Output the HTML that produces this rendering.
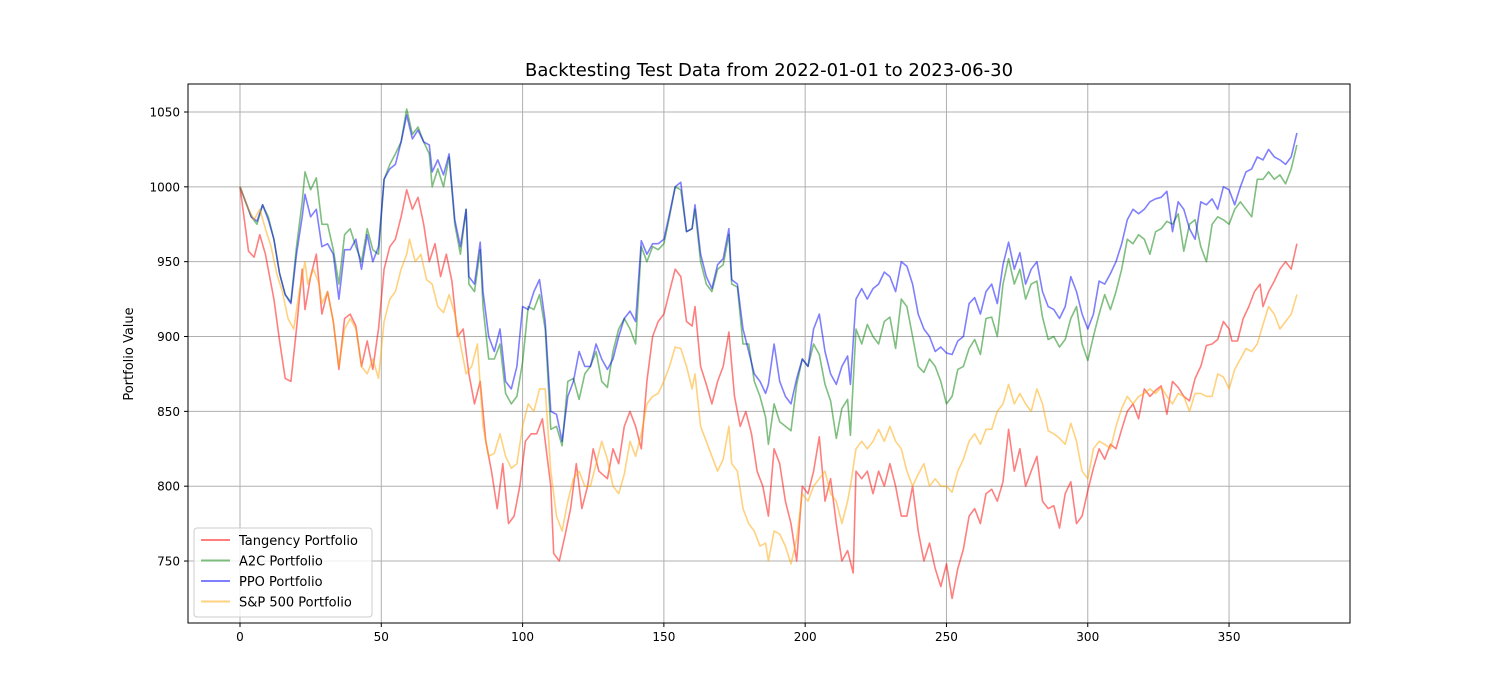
<!DOCTYPE html>
<html><head><meta charset="utf-8"><style>
html,body{margin:0;padding:0;background:#fff;}
svg{display:block;font-family:"DejaVu Sans","Liberation Sans",sans-serif;}
</style></head><body>
<svg id="chart" width="1500" height="700" viewBox="0 0 1500 700">
<rect x="0" y="0" width="1500" height="700" fill="#fff"/>
<text x="769" y="76" font-size="18" text-anchor="middle">Backtesting Test Data from 2022-01-01 to 2023-06-30</text>
<text transform="translate(133,354) rotate(-90)" font-size="13" text-anchor="middle">Portfolio Value</text>
<g id="grid"></g>
<g id="ticks"></g>
<g id="series"></g>
<rect x="188" y="84" width="1162" height="539" fill="none" stroke="#000" stroke-width="1"/>
<g id="legend"></g>
</svg>
<script>
const xTicks=[0,50,100,150,200,250,300,350];
const yTicks=[750,800,850,900,950,1000,1050];
const seriesNames=["Tangency Portfolio","A2C Portfolio","PPO Portfolio","S&P 500 Portfolio"];
const tangencyData=[[0,1000],[3,957],[5,953],[7,968],[9,955],[12,925],[14,897],[16,872],[18,870],[20,905],[22,945],[23,918],[25,940],[27,955],[29,915],[31,930],[33,910],[35,878],[37,912],[39,915],[41,907],[43,880],[45,897],[47,878],[49,905],[51,945],[53,960],[55,965],[57,980],[59,998],[61,985],[63,993],[65,975],[67,950],[69,962],[71,940],[73,955],[75,937],[77,900],[79,905],[81,875],[83,855],[85,870],[87,830],[89,810],[91,785],[93,815],[95,775],[97,780],[99,800],[101,830],[103,835],[105,835],[107,845],[110,800],[111,755],[113,750],[115,767],[117,785],[119,815],[121,785],[123,800],[125,825],[127,810],[130,805],[132,825],[134,815],[136,840],[138,850],[140,840],[142,825],[144,870],[146,900],[148,910],[150,915],[152,930],[154,945],[156,940],[158,910],[160,907],[161,920],[163,880],[165,868],[167,855],[169,870],[171,880],[173,903],[175,860],[177,840],[179,850],[181,835],[183,810],[185,800],[187,780],[189,825],[191,815],[193,790],[195,775],[197,750],[199,800],[201,795],[203,810],[205,833],[207,790],[209,805],[211,775],[213,750],[215,757],[217,742],[218,810],[220,805],[222,810],[224,795],[226,810],[228,800],[230,815],[232,800],[234,780],[236,780],[238,800],[240,770],[242,750],[244,762],[246,745],[248,733],[250,748],[252,725],[254,745],[256,758],[258,780],[260,785],[262,775],[264,795],[266,798],[268,790],[270,803],[272,838],[274,810],[276,825],[278,800],[280,810],[282,820],[284,790],[286,785],[288,787],[290,772],[292,795],[294,803],[296,775],[298,780],[300,797],[302,812],[304,825],[306,818],[308,828],[310,825],[312,838],[314,850],[316,855],[318,845],[320,865],[322,860],[324,864],[326,867],[328,848],[330,870],[332,866],[334,860],[336,857],[338,872],[340,880],[342,894],[344,895],[346,898],[348,910],[350,905],[351,897],[353,897],[355,912],[357,920],[359,930],[361,935],[362,920],[364,930],[366,937],[368,945],[370,950],[372,945],[374,962]];
const a2cData=[[0,1000],[2,990],[4,980],[6,975],[8,988],[10,980],[12,965],[14,942],[16,928],[18,923],[20,960],[22,990],[23,1010],[25,998],[27,1006],[29,975],[31,975],[33,958],[35,935],[37,968],[39,972],[41,960],[43,950],[45,972],[47,958],[49,955],[51,1005],[53,1015],[55,1022],[57,1030],[59,1052],[61,1035],[63,1040],[65,1030],[67,1022],[68,1000],[70,1012],[72,1000],[74,1020],[76,975],[78,955],[80,985],[81,935],[83,930],[85,958],[86,920],[88,885],[90,885],[92,895],[94,862],[96,855],[98,860],[100,883],[102,920],[104,918],[106,928],[108,905],[110,838],[112,840],[114,827],[116,870],[118,872],[120,858],[122,875],[124,880],[126,890],[128,870],[130,866],[132,890],[134,905],[136,912],[138,905],[140,895],[142,960],[144,950],[146,960],[148,958],[150,962],[152,980],[154,1000],[156,998],[158,970],[160,972],[161,985],[163,950],[165,935],[167,930],[169,945],[171,948],[173,968],[174,935],[176,933],[178,895],[180,895],[182,870],[184,860],[186,846],[187,828],[189,855],[191,843],[193,840],[195,837],[197,868],[199,885],[201,880],[203,895],[205,888],[207,868],[209,857],[211,832],[213,852],[215,858],[216,834],[218,905],[220,895],[222,908],[224,900],[226,895],[228,910],[230,913],[232,892],[234,925],[236,920],[238,900],[240,880],[242,876],[244,885],[246,880],[248,870],[250,855],[252,860],[254,878],[256,880],[258,892],[260,898],[262,888],[264,912],[266,913],[268,900],[270,935],[272,952],[274,935],[276,945],[278,925],[280,935],[282,937],[284,913],[286,898],[288,900],[290,893],[292,898],[294,912],[296,920],[298,895],[300,884],[302,900],[304,915],[306,928],[308,918],[310,930],[312,945],[314,965],[316,962],[318,968],[320,965],[322,955],[324,970],[326,972],[328,977],[330,975],[332,982],[334,957],[336,975],[338,978],[340,960],[342,950],[344,975],[346,980],[348,978],[350,975],[352,985],[354,990],[356,985],[358,980],[360,1005],[362,1005],[364,1010],[366,1005],[368,1008],[370,1002],[372,1012],[374,1028]];
const ppoData=[[0,1000],[2,990],[4,980],[6,977],[8,988],[10,978],[12,965],[14,942],[16,928],[18,922],[20,955],[22,980],[23,995],[25,980],[27,985],[29,960],[31,962],[33,955],[35,925],[37,958],[39,958],[41,965],[43,945],[45,968],[47,950],[49,960],[51,1005],[53,1012],[55,1015],[57,1030],[59,1048],[61,1032],[63,1038],[65,1030],[67,1028],[68,1010],[70,1018],[72,1008],[74,1022],[76,978],[78,960],[80,985],[81,940],[83,935],[85,963],[86,930],[88,900],[90,890],[92,905],[94,870],[96,865],[98,880],[100,920],[102,918],[104,930],[106,938],[108,910],[110,850],[112,848],[114,830],[116,860],[118,870],[120,890],[122,880],[124,880],[126,895],[128,885],[130,878],[132,885],[134,900],[136,912],[138,917],[140,910],[142,964],[144,955],[146,962],[148,962],[150,965],[152,982],[154,1000],[156,1003],[158,970],[160,972],[161,988],[163,955],[165,940],[167,932],[169,948],[171,952],[173,972],[174,938],[176,935],[178,905],[180,890],[182,875],[184,870],[186,862],[187,868],[189,895],[191,870],[193,860],[195,855],[197,872],[199,885],[201,880],[203,905],[205,915],[207,890],[209,875],[211,868],[213,880],[215,887],[216,868],[218,925],[220,932],[222,925],[224,932],[226,935],[228,943],[230,940],[232,930],[234,950],[236,947],[238,935],[240,915],[242,905],[244,900],[246,890],[248,893],[250,889],[252,888],[254,897],[256,900],[258,922],[260,926],[262,915],[264,930],[266,935],[268,922],[270,948],[272,963],[274,945],[276,956],[278,935],[280,945],[282,950],[284,930],[286,920],[288,918],[290,912],[292,920],[294,940],[296,930],[298,915],[300,905],[302,915],[304,937],[306,935],[308,942],[310,950],[312,962],[314,978],[316,985],[318,982],[320,985],[322,990],[324,992],[326,993],[328,997],[330,970],[332,990],[334,985],[336,972],[338,965],[340,990],[342,988],[344,992],[346,985],[348,1000],[350,998],[352,988],[354,1000],[356,1010],[358,1012],[360,1020],[362,1018],[364,1025],[366,1020],[368,1018],[370,1015],[372,1020],[374,1036]];
const spData=[[0,1000],[3,985],[5,978],[7,985],[9,972],[11,960],[13,942],[15,930],[17,912],[19,905],[21,930],[23,950],[24,935],[26,945],[28,935],[29,922],[31,930],[33,910],[35,880],[37,905],[39,912],[41,905],[43,880],[45,875],[47,885],[49,872],[51,910],[53,925],[55,930],[57,945],[59,955],[60,965],[62,950],[64,955],[66,938],[68,935],[70,920],[72,916],[74,928],[76,915],[78,895],[80,875],[82,880],[84,895],[86,840],[88,820],[90,822],[92,835],[94,820],[96,812],[98,815],[100,840],[102,855],[104,850],[106,865],[108,865],[110,810],[112,780],[114,770],[116,790],[118,805],[120,810],[122,800],[124,800],[126,815],[128,830],[130,818],[132,800],[134,795],[136,808],[138,830],[140,820],[142,835],[144,855],[146,860],[148,862],[150,870],[152,880],[154,893],[156,892],[158,880],[160,865],[161,875],[163,840],[165,830],[167,820],[169,810],[171,818],[173,840],[174,815],[176,810],[178,785],[180,775],[182,770],[184,760],[186,762],[187,750],[189,770],[191,768],[193,760],[195,748],[197,765],[199,795],[201,790],[203,800],[205,805],[207,810],[209,795],[211,790],[213,775],[215,790],[216,800],[218,825],[220,830],[222,825],[224,830],[226,838],[228,830],[230,840],[232,830],[234,825],[236,810],[238,800],[240,808],[242,815],[244,800],[246,805],[248,800],[250,800],[252,796],[254,810],[256,818],[258,830],[260,835],[262,828],[264,838],[266,838],[268,850],[270,855],[272,868],[274,855],[276,862],[278,855],[280,850],[282,865],[284,855],[286,837],[288,835],[290,832],[292,828],[294,842],[296,830],[298,810],[300,805],[302,825],[304,830],[306,828],[308,825],[310,840],[312,852],[314,860],[316,855],[318,860],[320,862],[322,865],[324,862],[326,866],[328,860],[330,855],[332,862],[334,860],[336,850],[338,862],[340,862],[342,860],[344,860],[346,875],[348,873],[350,865],[352,878],[354,885],[356,892],[358,890],[360,895],[362,908],[364,920],[366,915],[368,905],[370,910],[372,915],[374,928]];

const NS="http://www.w3.org/2000/svg";
const L=188,R=1350,T=84,B=623;
const xMin=-18.4,xMax=392.8,yMin=708.6,yMax=1068.7;
function sx(v){return L+(v-xMin)/(xMax-xMin)*(R-L);}
function sy(v){return B-(v-yMin)/(yMax-yMin)*(B-T);}
function mk(tag,attrs,parent){const e=document.createElementNS(NS,tag);for(const k in attrs)e.setAttribute(k,attrs[k]);parent.appendChild(e);return e;}
const grid=document.getElementById('grid'),ticks=document.getElementById('ticks');
xTicks.forEach(t=>{
  const x=sx(t);
  const g=mk('line',{x1:x,x2:x,y1:T,y2:B,stroke:'#b0b0b0','stroke-width':1},grid);
  
  
  mk('line',{x1:x,x2:x,y1:B,y2:B+4,stroke:'#000','stroke-width':1},ticks);
  const tx=mk('text',{x:x,y:B+18,'font-size':12,'text-anchor':'middle'},ticks);
  tx.textContent=t;
  
  
});
yTicks.forEach(t=>{
  const y=sy(t);
  const g=mk('line',{x1:L,x2:R,y1:y,y2:y,stroke:'#b0b0b0','stroke-width':1},grid);
  
  
  mk('line',{x1:L-4,x2:L,y1:y,y2:y,stroke:'#000','stroke-width':1},ticks);
  const tx=mk('text',{x:L-8,y:y+4.5,'font-size':12,'text-anchor':'end'},ticks);
  tx.textContent=t;
  
  
});
const colors=['#ff0000','#008000','#0000ff','#ffa500'];
const allData=[tangencyData,a2cData,ppoData,spData];
const sg=document.getElementById('series');
const lineNames=['tangency-line','a2c-line','ppo-line','sp500-line'];
allData.forEach((d,i)=>{
  const p=mk('polyline',{points:d.map(q=>sx(q[0]).toFixed(1)+','+sy(q[1]).toFixed(1)).join(' '),fill:'none',stroke:colors[i],'stroke-opacity':0.5,'stroke-width':1.6,'stroke-linejoin':'round'},sg);
  
  
});
const lg=document.getElementById('legend');
mk('rect',{x:194,y:528,width:178,height:89,rx:3,fill:'#fff','fill-opacity':0.8,stroke:'#ccc','stroke-width':1},lg);
seriesNames.forEach((n,i)=>{
  const y=540+i*20.5;
  const ln=mk('line',{x1:201,x2:230,y1:y,y2:y,stroke:colors[i],'stroke-opacity':0.5,'stroke-width':2},lg);
  
  
  const tx=mk('text',{x:239,y:y+5,'font-size':13},lg);
  tx.textContent=n;
  
  
});
</script>
</body></html>
